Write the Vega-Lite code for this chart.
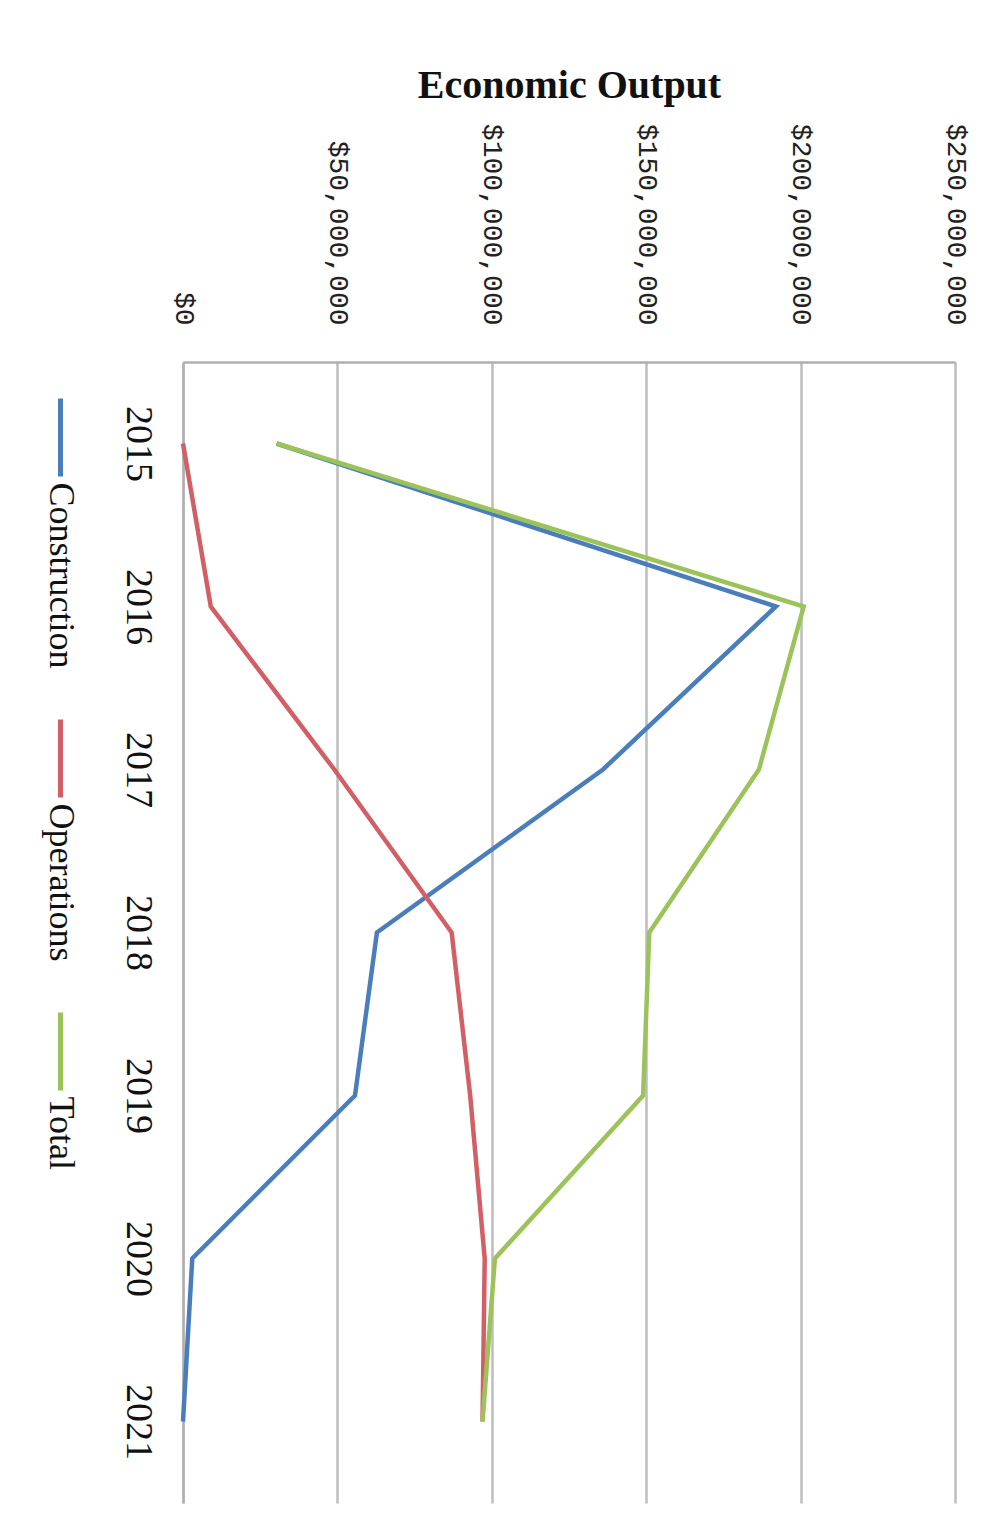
{
  "$schema": "https://vega.github.io/schema/vega-lite/v6.json",
  "width": 772,
  "height": 1141,
  "autosize": {"type": "none"},
  "padding": {"left": 183, "top": 362, "right": 50, "bottom": 29},
  "background": "white",
  "data": {
    "values": [
      {"year": 2015, "series": "Construction", "output": 30300000},
      {"year": 2016, "series": "Construction", "output": 192000000},
      {"year": 2017, "series": "Construction", "output": 136000000},
      {"year": 2018, "series": "Construction", "output": 62800000},
      {"year": 2019, "series": "Construction", "output": 55700000},
      {"year": 2020, "series": "Construction", "output": 3000000},
      {"year": 2021, "series": "Construction", "output": 0},
      {"year": 2015, "series": "Operations", "output": 0},
      {"year": 2016, "series": "Operations", "output": 9000000},
      {"year": 2017, "series": "Operations", "output": 49000000},
      {"year": 2018, "series": "Operations", "output": 87000000},
      {"year": 2019, "series": "Operations", "output": 93000000},
      {"year": 2020, "series": "Operations", "output": 97700000},
      {"year": 2021, "series": "Operations", "output": 97000000},
      {"year": 2015, "series": "Total", "output": 30300000},
      {"year": 2016, "series": "Total", "output": 201000000},
      {"year": 2017, "series": "Total", "output": 186500000},
      {"year": 2018, "series": "Total", "output": 151000000},
      {"year": 2019, "series": "Total", "output": 149000000},
      {"year": 2020, "series": "Total", "output": 101000000},
      {"year": 2021, "series": "Total", "output": 97000000}
    ]
  },
  "mark": {"type": "line", "strokeWidth": 4.5},
  "encoding": {
    "x": {
      "field": "output",
      "type": "quantitative",
      "scale": {"domain": [0, 250000000], "nice": false},
      "axis": {
        "orient": "top",
        "title": "Economic Output",
        "titleFont": "Liberation Serif",
        "titleFontSize": 40,
        "titleFontWeight": "bold",
        "titleColor": "#111111",
        "titleBaseline": "bottom",
        "titleY": -257,
        "values": [0, 50000000, 100000000, 150000000, 200000000, 250000000],
        "format": "$,.0f",
        "labelAngle": 90,
        "labelAlign": "right",
        "labelBaseline": "middle",
        "labelFont": "Liberation Mono",
        "labelFontSize": 28,
        "labelColor": "#222222",
        "labelPadding": 37,
        "labelLimit": 500,
        "labelFlush": false,
        "labelOverlap": false,
        "ticks": false,
        "domainColor": "#b0b0b0",
        "domainWidth": 2.5,
        "grid": true,
        "gridColor": "#bdbdbd",
        "gridWidth": 2.5
      }
    },
    "y": {
      "field": "year",
      "type": "ordinal",
      "scale": {"type": "point", "padding": 0.5},
      "axis": {
        "orient": "left",
        "title": null,
        "labelAngle": 90,
        "labelAlign": "center",
        "labelBaseline": "top",
        "labelFont": "Liberation Serif",
        "labelFontSize": 38,
        "labelColor": "#111111",
        "labelPadding": 27,
        "ticks": false,
        "domainColor": "#b0b0b0",
        "domainWidth": 2.5,
        "grid": false
      }
    },
    "color": {
      "field": "series",
      "type": "nominal",
      "scale": {
        "domain": ["Construction", "Operations", "Total"],
        "range": ["#4a7ebb", "#d25f66", "#9bc35a"]
      },
      "legend": {
        "orient": "none",
        "legendX": -164,
        "legendY": 34,
        "direction": "vertical",
        "title": null,
        "symbolType": "stroke",
        "symbolSize": 6084,
        "symbolStrokeWidth": 5,
        "labelFont": "Liberation Serif",
        "labelFontSize": 36,
        "labelColor": "#111111",
        "labelLimit": 500,
        "labelOffset": -41,
        "labelAlign": "left",
        "labelBaseline": "middle",
        "rowPadding": 40,
        "padding": 0,
        "encoding": {
          "symbols": {"angle": {"value": 90}},
          "labels": {"angle": {"value": 90}, "dx": {"value": 45}}
        }
      }
    }
  },
  "config": {"view": {"stroke": null}}
}
